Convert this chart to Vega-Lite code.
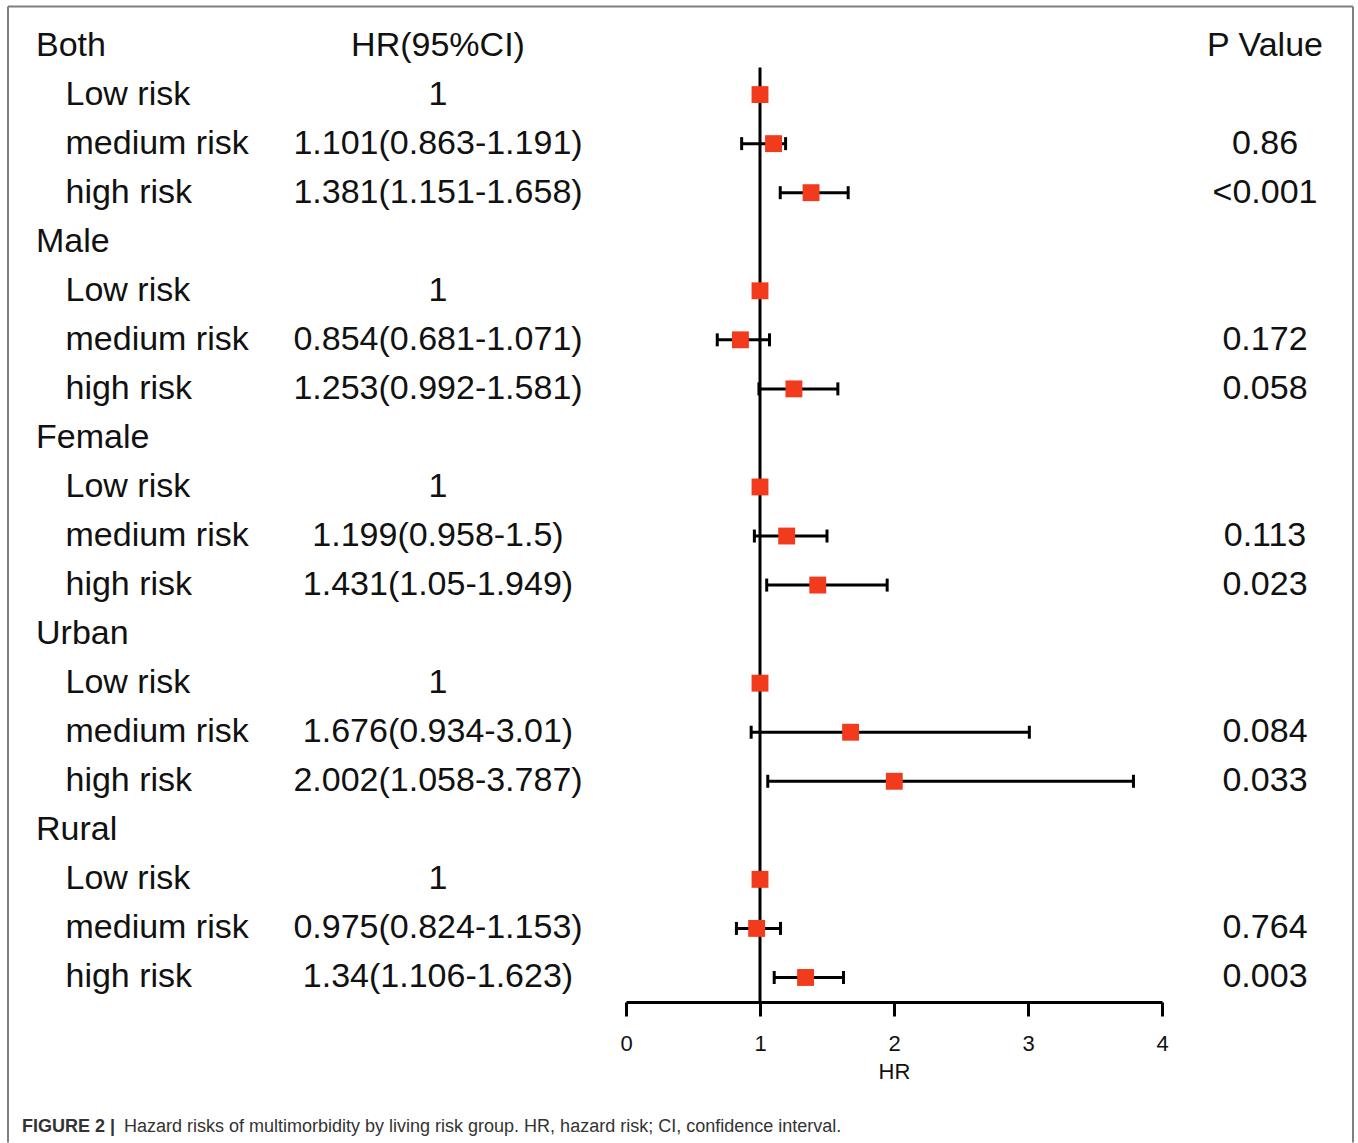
{
  "$schema": "https://vega.github.io/schema/vega-lite/v6.json",
  "padding": {"left": 7, "top": 5, "right": 0, "bottom": 0},
  "background": "white",
  "datasets": {
    "rows": [
      {"row": 0, "name": "Both", "level": "group", "hr": "HR(95%CI)", "p": "P Value"},
      {"row": 1, "name": "Low risk", "level": "sub", "hr": "1", "p": "", "est": 1},
      {"row": 2, "name": "medium risk", "level": "sub", "hr": "1.101(0.863-1.191)", "p": "0.86", "est": 1.101, "lo": 0.863, "hi": 1.191},
      {"row": 3, "name": "high risk", "level": "sub", "hr": "1.381(1.151-1.658)", "p": "<0.001", "est": 1.381, "lo": 1.151, "hi": 1.658},
      {"row": 4, "name": "Male", "level": "group", "hr": "", "p": ""},
      {"row": 5, "name": "Low risk", "level": "sub", "hr": "1", "p": "", "est": 1},
      {"row": 6, "name": "medium risk", "level": "sub", "hr": "0.854(0.681-1.071)", "p": "0.172", "est": 0.854, "lo": 0.681, "hi": 1.071},
      {"row": 7, "name": "high risk", "level": "sub", "hr": "1.253(0.992-1.581)", "p": "0.058", "est": 1.253, "lo": 0.992, "hi": 1.581},
      {"row": 8, "name": "Female", "level": "group", "hr": "", "p": ""},
      {"row": 9, "name": "Low risk", "level": "sub", "hr": "1", "p": "", "est": 1},
      {"row": 10, "name": "medium risk", "level": "sub", "hr": "1.199(0.958-1.5)", "p": "0.113", "est": 1.199, "lo": 0.958, "hi": 1.5},
      {"row": 11, "name": "high risk", "level": "sub", "hr": "1.431(1.05-1.949)", "p": "0.023", "est": 1.431, "lo": 1.05, "hi": 1.949},
      {"row": 12, "name": "Urban", "level": "group", "hr": "", "p": ""},
      {"row": 13, "name": "Low risk", "level": "sub", "hr": "1", "p": "", "est": 1},
      {"row": 14, "name": "medium risk", "level": "sub", "hr": "1.676(0.934-3.01)", "p": "0.084", "est": 1.676, "lo": 0.934, "hi": 3.01},
      {"row": 15, "name": "high risk", "level": "sub", "hr": "2.002(1.058-3.787)", "p": "0.033", "est": 2.002, "lo": 1.058, "hi": 3.787},
      {"row": 16, "name": "Rural", "level": "group", "hr": "", "p": ""},
      {"row": 17, "name": "Low risk", "level": "sub", "hr": "1", "p": "", "est": 1},
      {"row": 18, "name": "medium risk", "level": "sub", "hr": "0.975(0.824-1.153)", "p": "0.764", "est": 0.975, "lo": 0.824, "hi": 1.153},
      {"row": 19, "name": "high risk", "level": "sub", "hr": "1.34(1.106-1.623)", "p": "0.003", "est": 1.34, "lo": 1.106, "hi": 1.623}
    ]
  },
  "spacing": 0,
  "bounds": "flush",
  "hconcat": [
    {
      "width": 214,
      "height": 981,
      "title": {
        "text": "FIGURE 2 |",
        "orient": "bottom",
        "anchor": "start",
        "frame": "group",
        "font": "Liberation Sans",
        "fontSize": 18,
        "fontWeight": "bold",
        "color": "#333333",
        "offset": 116,
        "dx": -14
      },
      "data": {"name": "rows"},
      "layer": [
        {
          "transform": [{"filter": "datum.level === 'group'"}],
          "mark": {"type": "text", "align": "left", "baseline": "middle", "fontSize": 34, "font": "Liberation Sans", "color": "#111111"},
          "encoding": {
            "x": {"datum": 0, "type": "quantitative", "scale": {"domain": [0, 1]}, "axis": null},
            "y": {"field": "row", "type": "quantitative", "scale": {"domain": [19.5, -0.5], "nice": false, "zero": false}, "axis": null},
            "text": {"field": "name"}
          }
        },
        {
          "transform": [{"filter": "datum.level === 'sub'"}],
          "mark": {"type": "text", "align": "left", "baseline": "middle", "fontSize": 34, "font": "Liberation Sans", "color": "#111111", "dx": 29.5},
          "encoding": {
            "x": {"datum": 0, "type": "quantitative", "scale": {"domain": [0, 1]}, "axis": null},
            "y": {"field": "row", "type": "quantitative", "scale": {"domain": [19.5, -0.5], "nice": false, "zero": false}, "axis": null},
            "text": {"field": "name"}
          }
        }
      ]
    },
    {
      "width": 376,
      "height": 981,
      "title": {
        "text": "Hazard risks of multimorbidity by living risk group. HR, hazard risk; CI, confidence interval.",
        "orient": "bottom",
        "anchor": "start",
        "frame": "group",
        "font": "Liberation Sans",
        "fontSize": 18,
        "fontWeight": "normal",
        "color": "#333333",
        "offset": 116,
        "dx": -126,
        "limit": 0
      },
      "data": {"name": "rows"},
      "mark": {"type": "text", "align": "center", "baseline": "middle", "fontSize": 34, "font": "Liberation Sans", "color": "#111111"},
      "encoding": {
        "y": {"field": "row", "type": "quantitative", "scale": {"domain": [19.5, -0.5], "nice": false, "zero": false}, "axis": null},
        "text": {"field": "hr"}
      }
    },
    {
      "width": 536,
      "height": 981,
      "data": {"name": "rows"},
      "layer": [
        {
          "data": {"values": [{}]},
          "mark": {"type": "rule", "color": "#7f7f7f", "strokeWidth": 2},
          "encoding": {
            "x": {"datum": -4.61194, "type": "quantitative"},
            "y": {"datum": -0.79562, "type": "quantitative"},
            "y2": {"datum": 22.36442}
          }
        },
        {
          "data": {"values": [{}]},
          "mark": {"type": "rule", "color": "#7f7f7f", "strokeWidth": 2},
          "encoding": {
            "x": {"datum": 5.42537, "type": "quantitative"},
            "y": {"datum": -0.79562, "type": "quantitative"},
            "y2": {"datum": 22.36442}
          }
        },
        {
          "data": {"values": [{}]},
          "mark": {"type": "rule", "color": "#7f7f7f", "strokeWidth": 2},
          "encoding": {
            "x": {"datum": -4.61194, "type": "quantitative"},
            "x2": {"datum": 5.42537},
            "y": {"datum": -0.79562, "type": "quantitative"}
          }
        },
        {
          "data": {"values": [{}]},
          "mark": {"type": "rule", "color": "#000000", "strokeWidth": 3},
          "encoding": {
            "x": {"datum": 1, "type": "quantitative"},
            "y": {"datum": 0.45, "type": "quantitative"},
            "y2": {"datum": 19.5}
          }
        },
        {
          "transform": [{"filter": "isValid(datum.lo)"}],
          "mark": {"type": "rule", "color": "#000000", "strokeWidth": 3},
          "encoding": {
            "x": {"field": "lo", "type": "quantitative"},
            "x2": {"field": "hi"},
            "y": {"field": "row", "type": "quantitative"}
          }
        },
        {
          "transform": [{"filter": "isValid(datum.lo)"}],
          "mark": {"type": "tick", "orient": "vertical", "color": "#000000", "size": 13, "thickness": 3, "opacity": 1},
          "encoding": {
            "x": {"field": "lo", "type": "quantitative"},
            "y": {"field": "row", "type": "quantitative"}
          }
        },
        {
          "transform": [{"filter": "isValid(datum.hi)"}],
          "mark": {"type": "tick", "orient": "vertical", "color": "#000000", "size": 13, "thickness": 3, "opacity": 1},
          "encoding": {
            "x": {"field": "hi", "type": "quantitative"},
            "y": {"field": "row", "type": "quantitative"}
          }
        },
        {
          "transform": [{"filter": "isValid(datum.est)"}],
          "mark": {"type": "point", "shape": "square", "filled": true, "size": 285, "color": "#F23A1C", "opacity": 1},
          "encoding": {
            "x": {"field": "est", "type": "quantitative"},
            "y": {"field": "row", "type": "quantitative"}
          }
        }
      ],
      "encoding": {
        "x": {
          "type": "quantitative",
          "scale": {"domain": [0, 4], "nice": false, "zero": false},
          "axis": {"title": "HR", "values": [0, 1, 2, 3, 4]}
        },
        "y": {
          "type": "quantitative",
          "scale": {"domain": [19.5, -0.5], "nice": false, "zero": false},
          "axis": null
        }
      }
    },
    {
      "width": 196,
      "height": 981,
      "data": {"name": "rows"},
      "mark": {"type": "text", "align": "center", "baseline": "middle", "fontSize": 34, "font": "Liberation Sans", "color": "#111111", "dx": 5},
      "encoding": {
        "y": {"field": "row", "type": "quantitative", "scale": {"domain": [19.5, -0.5], "nice": false, "zero": false}, "axis": null},
        "text": {"field": "p"}
      }
    }
  ],
  "config": {
    "view": {"stroke": null},
    "font": "Liberation Sans",
    "axisX": {
      "grid": false,
      "domainColor": "#000000",
      "domainWidth": 3,
      "tickColor": "#000000",
      "tickWidth": 3,
      "tickSize": 14,
      "labelFlush": false,
      "labelFontSize": 22,
      "labelFont": "Liberation Sans",
      "labelColor": "#111111",
      "labelPadding": 17,
      "titleFontSize": 22,
      "titleFont": "Liberation Sans",
      "titleFontWeight": "normal",
      "titleColor": "#111111",
      "titlePadding": 7
    }
  }
}
